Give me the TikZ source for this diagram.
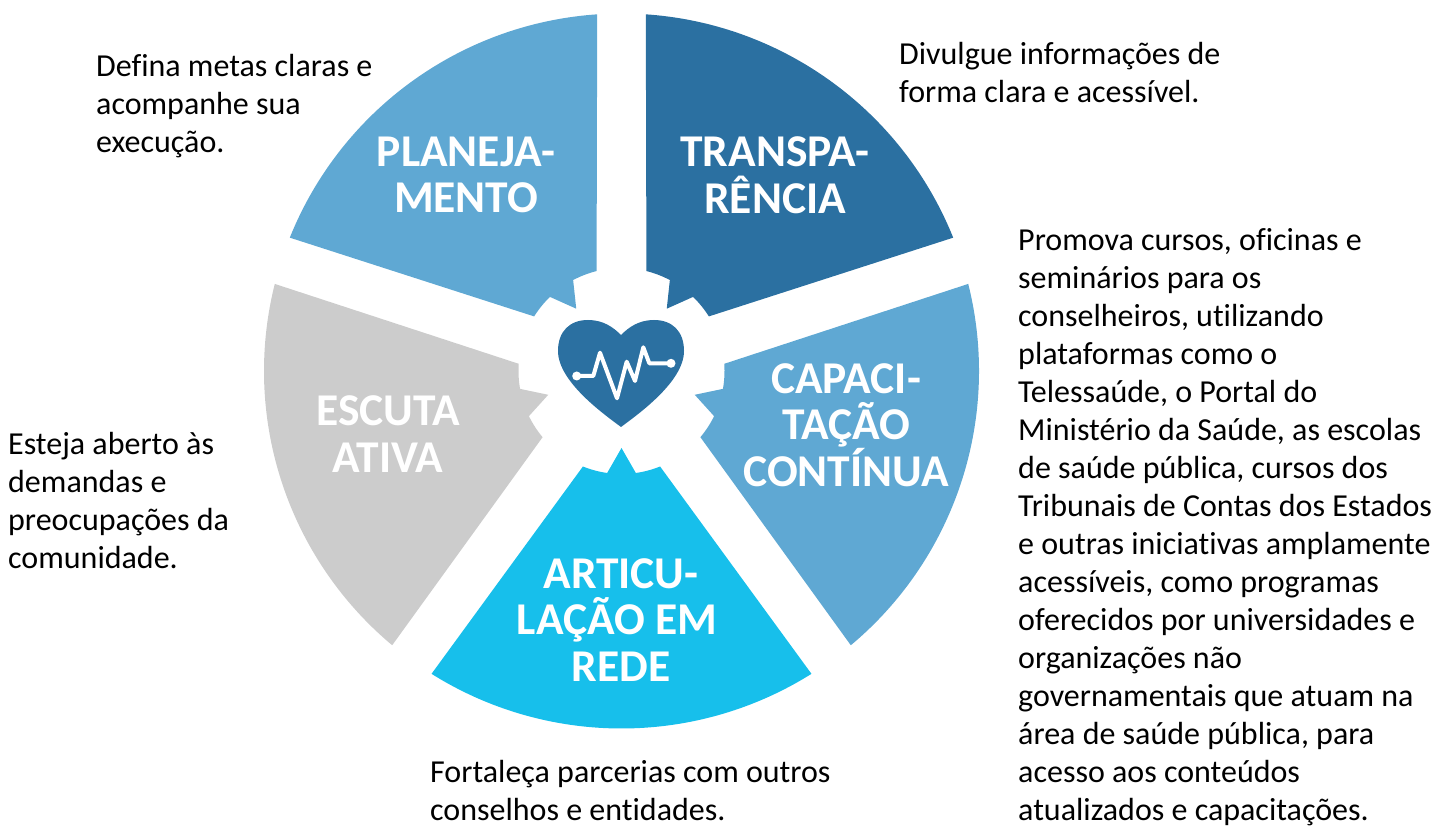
\documentclass[tikz,border=0pt]{standalone}
\usepackage{fontspec}
\setmainfont[Ligatures=NoCommon]{Carlito}
\definecolor{lightseg}{HTML}{5FA8D3}
\definecolor{darkseg}{HTML}{2B70A1}
\definecolor{cyanseg}{HTML}{17BFEB}
\definecolor{greyseg}{HTML}{CCCCCC}
\tikzset{
  note/.style={anchor=north west, align=left, inner sep=0pt, font=\fontsize{32}{38}\selectfont},
  title/.style={align=center, inner sep=0pt, text=white, font=\fontsize{45.5}{46.5}\selectfont\bfseries},
}
\begin{document}
\begin{tikzpicture}[x=1pt,y=1pt]
\useasboundingbox (0,0) rectangle (1437,827);
% segments
\foreach \ang/\col in {126/lightseg, 54/darkseg, 342/lightseg, 270/cyanseg, 198/greyseg}{
  \begin{scope}[shift={(621.5,456)}]
    \fill [\col] (\ang-32.1:357.5pt) arc [start angle=\ang-32.1, end angle=\ang+32.1, radius=357.5pt]
      -- (\ang+22:103pt) arc [start angle=\ang+22, end angle=\ang+8, radius=103pt]
      -- (\ang:77pt)
      -- (\ang-8:103pt) arc [start angle=\ang-8, end angle=\ang-22, radius=103pt] -- cycle;
  \end{scope}
}
% coeur
\fill [darkseg] (621,400) .. controls (605,412) and (558,445) .. (558,476)
  .. controls (558,496) and (570,507) .. (588,507) .. controls (603,507) and (613,500) .. (621,492)
  .. controls (629,500) and (639,507) .. (654,507) .. controls (672,507) and (684,496) .. (684,476)
  .. controls (684,445) and (637,412) .. (621,400) -- cycle;
% battement
\draw [white, line width=4pt, line join=round] (576.7,451) -- (593.3,451) -- (600,474.3) -- (617,428.7) -- (626.7,465.3)
  -- (635,446) -- (643.3,479.7) -- (649.3,463.7) -- (671,463.7);
\fill [white] (576.7,451) circle (4.5pt);
\fill [white] (671,463.7) circle (4.5pt);
% titres
\node [title] (plan) at (466,652) {PLANEJA-\\MENTO};
\node [title] (transp) at (775,652) {TRANSPA-\\RÊNCIA};
\node [title] (capac) at (846,402) {CAPACI-\\TAÇÃO\\CONTÍNUA};
\node [title] (artic) at (621,207) {ARTICU-\\LAÇÃO EM\kern8pt\\REDE};
\node [title] (escuta) at (388,393) {ESCUTA\\ATIVA};
% textes
\node [note] (tplan) at (96,773) {Defina metas claras e\\acompanhe sua\\execução.};
\node [note] (ttransp) at (899,785) {Divulgue informações de\\forma clara e acessível.};
\node [note] (tescuta) at (8,395) {Esteja aberto às\\demandas e\\preocupações da\\comunidade.};
\node [note] (tartic) at (430,67) {Fortaleça parcerias com outros\\conselhos e entidades.};
\node [note] (tcapac) at (1018,599) {Promova cursos, oficinas e\\seminários para os\\conselheiros, utilizando\\plataformas como o\\Telessaúde, o Portal do\\Ministério da Saúde, as escolas\\de saúde pública, cursos dos\\Tribunais de Contas dos Estados\\e outras iniciativas amplamente\\acessíveis, como programas\\oferecidos por universidades e\\organizações não\\governamentais que atuam na\\área de saúde pública, para\\acesso aos conteúdos\\atualizados e capacitações.};
\end{tikzpicture}
\end{document}
